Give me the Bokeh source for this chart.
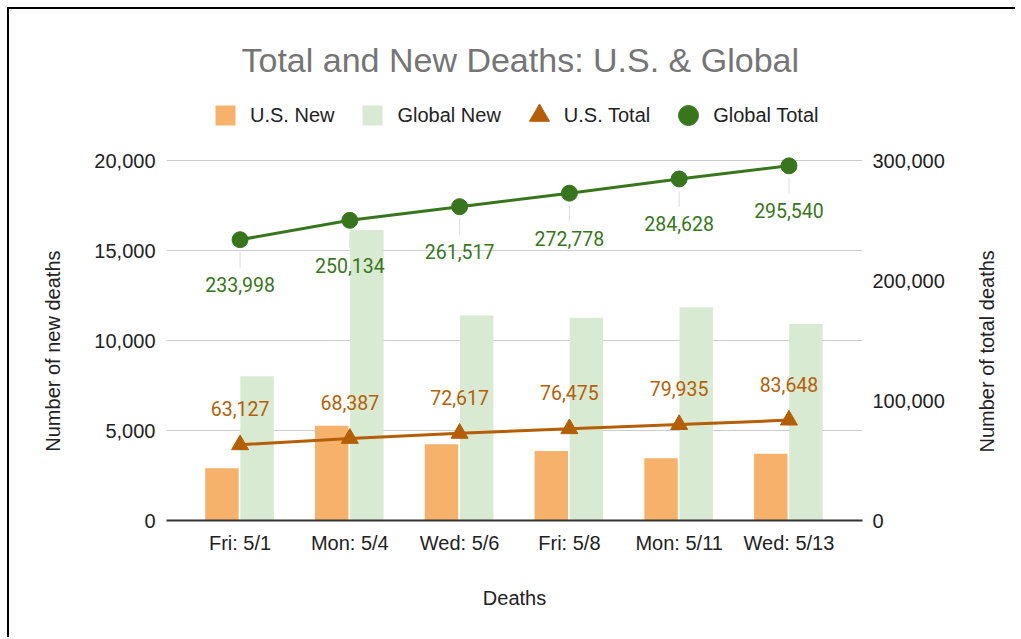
import math
from bokeh.plotting import figure
from bokeh.models import (Range1d, LinearAxis, FixedTicker, NumeralTickFormatter,
                          Legend, LegendItem, ColumnDataSource, Label)
from bokeh.transform import dodge
from bokeh.embed import file_html
from bokeh.resources import INLINE
from bokeh.core.properties import value

# ---------------- data ----------------
categories = ["Fri: 5/1", "Mon: 5/4", "Wed: 5/6", "Fri: 5/8", "Mon: 5/11", "Wed: 5/13"]
us_new = [2909, 5260, 4230, 3858, 3460, 3713]
global_new = [8020, 16136, 11383, 11261, 11850, 10912]
us_total = [63127, 68387, 72617, 76475, 79935, 83648]
global_total = [233998, 250134, 261517, 272778, 284628, 295540]
left_ticks = [0, 5000, 10000, 15000, 20000]
right_ticks = [0, 100000, 200000, 300000]

title_text = "Total and New Deaths: U.S. & Global"
left_title = "Number of new deaths"
right_title = "Number of total deaths"
x_title = "Deaths"

ORANGE = "#F6B26B"
LGREEN = "#D9EAD3"
DORANGE = "#B45F06"
DGREEN = "#38761D"
ARIAL = "Liberation Sans"

W, H = 1008, 630
GRID_H = 360          # pixel height of the 0..max tick span
FRAME_H = 511         # frame runs up to the top of the figure (title/legend live inside)
LEFT_MAX = left_ticks[-1]
RIGHT_MAX = right_ticks[-1]
upp = RIGHT_MAX / GRID_H  # data units per pixel on right axis

idx = list(range(len(categories)))
src = ColumnDataSource(dict(
    idx=idx,
    us_new=us_new,
    global_new=global_new,
    us_total=us_total,
    global_total=global_total,
    us_lbl=[f"{v:,}" for v in us_total],
    gl_lbl=[f"{v:,}" for v in global_total],
    lead0=[v - 12 * upp for v in global_total],
    lead1=[v - 28 * upp for v in global_total],
))

p = figure(width=W, height=H, output_backend="svg", toolbar_location=None,
           x_range=Range1d(-0.67, 5.67),
           y_range=Range1d(0, LEFT_MAX * FRAME_H / GRID_H),
           min_border_left=157, min_border_right=W - 853,
           min_border_top=0, min_border_bottom=H - FRAME_H)
p.styles = {"margin-left": "7px", "margin-top": "7px",
            "border-top": "2px solid black", "border-left": "2px solid black",
            "border-right": "none", "border-bottom": "none", "outline": "none"}
p.outline_line_color = None
p.background_fill_color = "white"
p.border_fill_color = "white"

p.extra_y_ranges = {"total": Range1d(0, RIGHT_MAX * FRAME_H / GRID_H)}

# ---------------- axes ----------------
yl = p.yaxis[0]
yl.ticker = FixedTicker(ticks=left_ticks)
yl.formatter = NumeralTickFormatter(format="0,0")

# left axis title (rotated label on an extra, line-less axis)
ltitle_pos = 15000
yl2 = LinearAxis(ticker=FixedTicker(ticks=[ltitle_pos]),
                 major_label_overrides={ltitle_pos: left_title})
p.add_layout(yl2, "left")
yl2.major_label_orientation = math.pi / 2

yr = LinearAxis(y_range_name="total", ticker=FixedTicker(ticks=right_ticks),
                formatter=NumeralTickFormatter(format="0,0"))
p.add_layout(yr, "right")

rtitle_pos = round(RIGHT_MAX * 68 / GRID_H)
yr2 = LinearAxis(y_range_name="total", ticker=FixedTicker(ticks=[rtitle_pos]),
                 major_label_overrides={rtitle_pos: right_title})
p.add_layout(yr2, "right")
yr2.major_label_orientation = math.pi / 2

xa = p.xaxis[0]
xa.ticker = FixedTicker(ticks=idx)
xa.major_label_overrides = {i: c for i, c in enumerate(categories)}
xa.axis_label = x_title
xa.axis_line_color = "#333333"
xa.axis_line_width = 2

for ax in (yl, yl2, yr, yr2, xa):
    ax.major_tick_line_color = None
    ax.minor_tick_line_color = None
    ax.major_label_text_font = ARIAL
    ax.major_label_text_font_size = "20px"
    ax.major_label_text_color = "#222222"
    ax.axis_label_text_font = ARIAL
    ax.axis_label_text_font_size = "20px"
    ax.axis_label_text_font_style = "normal"
    ax.axis_label_text_color = "#222222"
for ax in (yl, yl2, yr, yr2):
    ax.axis_line_color = None
yl.major_label_standoff = 5
yl2.major_label_standoff = 33
yr.major_label_standoff = 4
yr2.major_label_standoff = 34
xa.major_label_standoff = 5
xa.axis_label_standoff = 30

p.xgrid.visible = False
p.ygrid.ticker = FixedTicker(ticks=left_ticks)
p.ygrid.grid_line_color = "#cccccc"
p.ygrid.grid_line_width = 1

# ---------------- bars ----------------
r_us = p.vbar(x=dodge("idx", -0.165, range=p.x_range), top="us_new", width=0.305,
              source=src, fill_color=ORANGE, line_color=None)
r_gl = p.vbar(x=dodge("idx", 0.155, range=p.x_range), top="global_new", width=0.305,
              source=src, fill_color=LGREEN, line_color=None)
# swatch renderers used only by the legend
sw_us = p.scatter("idx", "us_new", source=src, marker="square",
                  fill_color=ORANGE, line_color=None, visible=False)
sw_gl = p.scatter("idx", "global_new", source=src, marker="square",
                  fill_color=LGREEN, line_color=None, visible=False)

# ---------------- lines ----------------
p.segment(x0="idx", y0="lead0", x1="idx", y1="lead1", source=src,
          y_range_name="total", line_color="#dddddd", line_width=1)
p.line("idx", "global_total", source=src, y_range_name="total",
       line_color=DGREEN, line_width=3)
r_gc = p.scatter("idx", "global_total", source=src, y_range_name="total",
                 marker="circle", size=16, fill_color=DGREEN, line_color=DGREEN)
p.line("idx", "us_total", source=src, y_range_name="total",
       line_color=DORANGE, line_width=3)
r_ut = p.scatter("idx", "us_total", source=src, y_range_name="total",
                 marker="triangle", size=17, fill_color=DORANGE, line_color=DORANGE)

# ---------------- data labels ----------------
p.text("idx", "global_total", text="gl_lbl", source=src, y_range_name="total",
       y_offset=45, text_align="center", text_baseline="middle",
       text_font=value("Roboto"), text_font_size="19.5px", text_color=DGREEN)
p.text("idx", "us_total", text="us_lbl", source=src, y_range_name="total",
       y_offset=-36, text_align="center", text_baseline="middle",
       text_font=value("Roboto"), text_font_size="19.5px", text_color=DORANGE)

# ---------------- legend ----------------
leg = Legend(items=[LegendItem(label="U.S. New", renderers=[sw_us]),
                    LegendItem(label="Global New", renderers=[sw_gl]),
                    LegendItem(label="U.S. Total", renderers=[r_ut]),
                    LegendItem(label="Global Total", renderers=[r_gc])],
             location=(34, 380), orientation="horizontal",
             glyph_width=50, glyph_height=50, label_standoff=0, spacing=13,
             padding=0, margin=0, border_line_color=None,
             background_fill_alpha=0, inactive_fill_alpha=0,
             label_text_font=ARIAL, label_text_font_size="20px",
             label_text_color="#222222", label_height=20)
p.add_layout(leg, "center")

# ---------------- title ----------------
p.add_layout(Label(x=75, y=461, x_units="screen", y_units="screen", text=title_text,
                   text_font=ARIAL, text_font_size="34px", text_color="#757575",
                   text_align="left", text_baseline="alphabetic"))

open("out.html", "w").write(file_html(p, INLINE))
